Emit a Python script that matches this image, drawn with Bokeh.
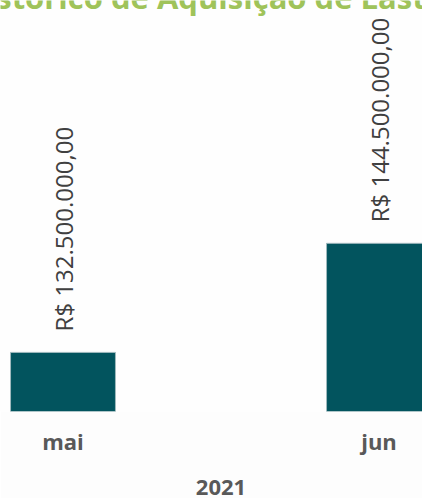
import math
from bokeh.plotting import figure
from bokeh.models import Range1d, FixedTicker, LinearAxis, ColumnDataSource
from bokeh.core.properties import value
from bokeh.embed import file_html
from bokeh.resources import INLINE

# ---- data ----
title_text = "Histórico de Aquisição de Lastro"
year = "2021"
categories = ["mai", "jun"]
values = [132500000, 144500000]
axis_min = 126000000

def brl(v):
    s = f"{v:,.2f}"
    s = s.replace(",", "X").replace(".", ",").replace("X", ".")
    return "R$ " + s

positions = list(range(len(categories)))
labels = [brl(v) for v in values]
year_pos = sum(positions) / len(positions)

src = ColumnDataSource(dict(x=positions, top=values, label=labels))

W, H = 422, 498
px_per_unit_x = 316.0
px_per_val = 9.09 / 1e6
frame_bottom = 411.0

x_start = -62.5 / px_per_unit_x
x_end = x_start + W / px_per_unit_x
y_start = axis_min
y_end = axis_min + frame_bottom / px_per_val

p = figure(width=W, height=H, output_backend="svg", toolbar_location=None,
           x_range=Range1d(x_start, x_end), y_range=Range1d(y_start, y_end),
           min_border_left=0, min_border_right=0, min_border_top=0,
           min_border_bottom=H - int(frame_bottom))
p.background_fill_color = "#fefefe"
p.border_fill_color = "#fdfdfd"
p.outline_line_color = None
p.grid.visible = False
p.yaxis.visible = False

p.vbar(x="x", top="top", bottom=axis_min, width=0.332, source=src,
       fill_color="#02545e", line_color="#9fb9bd", line_width=1)

p.text(x="x", y="top", text="label", source=src, angle=math.pi / 2,
       text_align="left", text_baseline="middle", y_offset=-21,
       text_font=value("Open Sans"), text_font_size="24px", text_color="#404040")

p.text(x=[year_pos], y=[y_end], y_offset=-4, x_offset=-10,
       text=[title_text], text_align="center", text_baseline="alphabetic",
       text_font=value("Open Sans"), text_font_style="bold",
       text_font_size="31px", text_color="#9fc35a")

xa = p.xaxis[0]
xa.ticker = FixedTicker(ticks=positions)
xa.major_label_overrides = {pos: c for pos, c in zip(positions, categories)}
xa.axis_line_color = None
xa.major_tick_line_color = None
xa.minor_tick_line_color = None
xa.major_tick_out = 0
xa.major_label_standoff = 14
xa.major_label_text_font = "Open Sans"
xa.major_label_text_font_style = "bold"
xa.major_label_text_font_size = "22px"
xa.major_label_text_color = "#595959"

ya = LinearAxis(ticker=FixedTicker(ticks=[year_pos]),
                major_label_overrides={year_pos: year})
ya.axis_line_color = None
ya.major_tick_line_color = None
ya.minor_tick_line_color = None
ya.major_tick_out = 0
ya.major_label_standoff = 21
ya.major_label_text_font = "Open Sans"
ya.major_label_text_font_style = "bold"
ya.major_label_text_font_size = "22px"
ya.major_label_text_color = "#595959"
p.add_layout(ya, "below")

open("out.html", "w").write(file_html(p, INLINE))
